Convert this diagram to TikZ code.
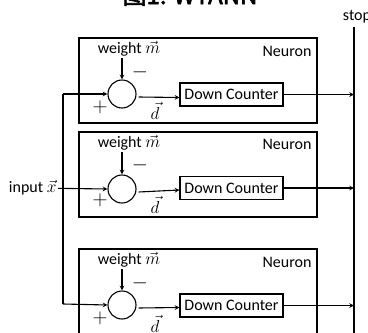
\documentclass[tikz,border=0pt]{standalone}
\usepackage{fontspec}
\setmainfont{Carlito}
\newfontfamily\cjk[AutoFakeBold=2.5]{Noto Sans CJK SC}

\begin{document}
\begin{tikzpicture}[x=1pt, y=-1pt,
                line width=1.1pt,
                nodes={font=\fontsize{16}{18}\selectfont, inner sep=1pt},
                neuron/.style={draw, minimum width=238pt, minimum height=85pt, inner sep=0pt},
                sum/.style={circle, draw, minimum size=28pt, inner sep=0pt},
                counter/.style={draw, minimum width=103pt, minimum height=23pt, inner sep=0pt},
                sign/.style={font=\fontsize{21}{22}\selectfont, inner sep=0pt},
                bus/.style={line width=1.5pt}]
                \useasboundingbox (0,0) rectangle (368,333);
                \node[anchor=base, font=\cjk\bfseries\fontsize{24}{26}\selectfont] (title) at (190,4) {图1: WTANN};

                % neurons
                \node[neuron] (n1) at (198,80.5) {};
                \node[neuron] (n2) at (198,174.5) {};
                \node[neuron] (n3) at (198,291.5) {};

                \node (w1) at (129,49) {weight $\vec{m}$};
                \node (w2) at (129,143) {weight $\vec{m}$};
                \node (w3) at (129,260) {weight $\vec{m}$};
                \node[anchor=east] (l1) at (313,51) {Neuron};
                \node[anchor=east] (l2) at (313,144) {Neuron};
                \node[anchor=east] (l3) at (313,262) {Neuron};

                \node[sum] (s1) at (122,94) {};
                \node[sum] (s2) at (122,189) {};
                \node[sum] (s3) at (122,305) {};
                \node[counter] (c1) at (231.5,94.5) {Down Counter};
                \node[counter] (c2) at (231.5,188) {Down Counter};
                \node[counter] (c3) at (231.5,305.5) {Down Counter};

                \node[sign] (m1) at (140,72) {$-$};
                \node[sign] (m2) at (140,165) {$-$};
                \node[sign] (m3) at (140,283) {$-$};
                \node[sign] (p1) at (100,107) {$+$};
                \node[sign] (p2) at (100,200) {$+$};
                \node[sign] (p3) at (100,318) {$+$};
                \node (d1) at (155,111) {$\vec{d}$};
                \node (d2) at (155,205) {$\vec{d}$};
                \node (d3) at (155,324) {$\vec{d}$};

                % input and stop
                \node[anchor=east] (inp) at (58,188) {input $\vec{x}$};
                \node (stop) at (357,17) {stop};
                \coordinate (in1) at (63,94);
                \coordinate (in3) at (63,304);
                \coordinate (st) at (354,27);
                \coordinate (sb) at (354,340);
                \draw[bus] (in1) -- (in3);
                \draw[bus] (st) -- (sb);

                \path[-stealth]
                (in1) edge (s1.west)
                (inp) edge (s2.west)
                (in3) edge (s3.west);
                \path[-stealth]
                (w1.south -| s1.north) edge (s1.north)
                (w2.south -| s2.north) edge (s2.north)
                (w3.south -| s3.north) edge (s3.north);
                \path[-stealth]
                ([xshift=2pt,yshift=-3pt]s1.east) edge ([yshift=-3pt]c1.west)
                ([xshift=2pt,yshift=-3pt]s2.east) edge ([yshift=-2pt]c2.west)
                ([xshift=2pt,yshift=-3pt]s3.east) edge ([yshift=-2pt]c3.west);
                \path[-stealth]
                (c1.east) edge (c1.east -| st)
                (c2.east) edge (c2.east -| st)
                (c3.east) edge (c3.east -| st);
            \end{tikzpicture}
\end{document}
